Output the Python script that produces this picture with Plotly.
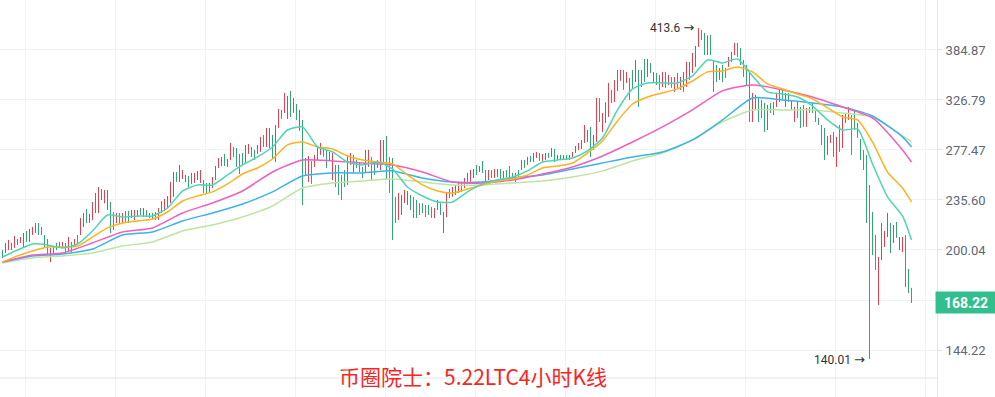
import numpy as np
import plotly.graph_objects as go

# ---------------- data ----------------
highs = [
    200.0, 204.7, 206.7, 204.7, 209.4, 207.4, 208.7, 211.5, 212.9, 214.3,
    215.7, 218.5, 218.5, 215.7, 210.1, 207.4, 201.4, 202.0, 204.7, 205.4,
    205.4, 204.7, 208.7, 205.4, 207.4, 210.1, 222.1, 225.8, 228.8, 225.1,
    234.1, 241.1, 245.8, 244.2, 243.4, 243.4, 234.1, 226.5, 225.8, 225.8,
    225.8, 227.3, 227.3, 228.0, 228.0, 228.0, 229.5, 229.5, 228.0, 225.8,
    225.8, 226.5, 229.5, 234.8, 236.4, 238.7, 249.9, 258.2, 258.2, 264.2,
    259.9, 255.7, 254.8, 257.4, 257.4, 259.1, 259.9, 251.5, 249.1, 249.1,
    254.0, 263.3, 270.3, 271.2, 273.9, 269.4, 283.9, 280.2, 279.3, 273.9,
    274.8, 282.1, 283.0, 280.2, 277.5, 282.1, 289.6, 291.4, 298.2, 298.2,
    291.4, 301.1, 317.3, 316.3, 334.4, 331.1, 336.6, 328.9, 322.5, 316.3,
    306.1, 270.3, 272.1, 267.7, 273.0, 279.3, 283.9, 280.2, 277.5, 275.7,
    274.8, 264.2, 264.2, 255.7, 259.9, 273.0, 274.8, 273.0, 268.5, 266.8,
    262.5, 277.5, 277.5, 271.2, 265.9, 268.5, 286.7, 286.7, 290.5, 271.2,
    270.3, 238.0, 241.1, 239.5, 243.4, 242.6, 239.5, 238.0, 235.6, 233.1,
    233.1, 231.8, 231.8, 230.3, 229.5, 235.6, 233.1, 226.5, 241.1, 244.2,
    245.8, 247.5, 249.9, 249.9, 253.2, 257.4, 259.9, 260.7, 264.2, 263.3,
    267.7, 259.9, 259.9, 259.9, 260.7, 260.7, 260.7, 259.1, 259.9, 263.3,
    257.4, 257.4, 259.9, 268.5, 268.5, 271.2, 272.1, 274.8, 275.7, 274.8,
    273.9, 274.8, 274.8, 279.3, 278.4, 273.0, 273.0, 273.0, 273.0, 273.0,
    275.7, 281.1, 283.9, 286.7, 301.1, 296.2, 299.2, 291.4, 328.9, 328.9,
    313.2, 324.3, 345.5, 337.7, 348.9, 360.5, 360.5, 360.5, 358.2, 351.2,
    360.5, 372.5, 360.5, 360.5, 373.7, 373.7, 368.8, 358.2, 357.0, 354.7,
    358.2, 358.2, 354.7, 352.3, 352.3, 357.0, 352.3, 358.2, 370.1, 370.1,
    381.1, 390.0, 413.6, 410.9, 406.9, 403.6, 404.2, 372.5, 366.4, 362.9,
    366.4, 362.9, 376.2, 382.4, 393.8, 393.8, 387.4, 372.5, 366.4, 358.2,
    334.4, 332.2, 328.9, 326.8, 323.6, 321.5, 323.6, 324.6, 334.4, 338.8,
    337.7, 334.4, 334.4, 326.8, 319.4, 324.6, 319.4, 321.5, 318.3, 319.4,
    323.6, 316.3, 308.1, 301.1, 298.2, 290.5, 291.4, 294.3, 289.6, 301.1,
    311.1, 313.2, 319.4, 311.1, 316.3, 303.1, 287.6, 277.5, 273.0, 247.5,
    226.5, 210.1, 195.5, 218.5, 212.9, 225.8, 218.5, 217.1, 219.2, 208.7,
    208.7, 210.1, 188.0, 176.7,
]
lows = [
    194.8, 198.1, 200.0, 200.0, 201.4, 203.4, 204.7, 202.0, 205.4, 205.4,
    210.1, 211.5, 210.1, 210.1, 201.4, 196.8, 192.3, 198.1, 200.0, 201.4,
    202.0, 198.7, 198.7, 198.7, 202.0, 204.7, 210.1, 215.7, 218.5, 218.5,
    220.7, 225.8, 225.8, 235.6, 233.1, 228.0, 211.5, 213.6, 218.5, 218.5,
    218.5, 219.2, 218.5, 222.1, 220.7, 222.8, 224.3, 222.8, 223.6, 222.1,
    220.7, 220.7, 220.7, 225.8, 227.3, 229.5, 233.1, 238.0, 249.9, 249.9,
    252.4, 249.9, 245.8, 248.3, 249.1, 251.5, 249.1, 241.1, 241.1, 241.9,
    245.0, 251.5, 261.6, 263.3, 263.3, 262.5, 268.5, 271.2, 262.5, 256.5,
    264.2, 265.9, 273.9, 271.2, 268.5, 273.9, 275.7, 280.2, 280.2, 279.3,
    269.4, 266.8, 298.2, 307.1, 313.2, 307.1, 309.1, 313.2, 306.1, 295.3,
    231.8, 255.7, 249.9, 248.3, 262.5, 268.5, 273.0, 271.2, 261.6, 268.5,
    251.5, 245.8, 239.5, 235.6, 245.8, 247.5, 264.2, 257.4, 261.6, 258.2,
    253.2, 258.2, 262.5, 251.5, 255.7, 261.6, 259.9, 266.8, 251.5, 241.1,
    206.7, 218.5, 220.7, 224.3, 233.1, 231.8, 228.0, 222.1, 222.1, 224.3,
    225.8, 222.8, 224.3, 222.1, 222.1, 228.0, 224.3, 211.5, 222.8, 237.1,
    238.0, 239.5, 241.1, 241.9, 245.0, 249.1, 249.9, 253.2, 255.7, 258.2,
    257.4, 249.1, 251.5, 253.2, 253.2, 254.0, 252.4, 251.5, 254.0, 253.2,
    251.5, 249.9, 254.0, 259.9, 261.6, 264.2, 266.8, 266.8, 270.3, 267.7,
    267.7, 268.5, 270.3, 271.2, 266.8, 268.5, 268.5, 268.5, 268.5, 268.5,
    271.2, 274.8, 277.5, 278.4, 283.9, 284.8, 271.2, 277.5, 284.8, 304.1,
    294.3, 303.1, 309.1, 323.6, 324.6, 336.6, 347.8, 337.7, 345.5, 326.8,
    339.9, 346.6, 319.4, 340.9, 346.6, 352.3, 357.0, 346.6, 343.2, 337.7,
    340.9, 339.9, 343.2, 339.9, 335.5, 339.9, 337.7, 335.5, 341.0, 348.9,
    357.0, 364.1, 388.7, 397.7, 378.6, 378.6, 378.6, 335.5, 346.6, 348.9,
    346.6, 351.2, 364.1, 370.1, 378.6, 376.2, 366.4, 352.3, 343.2, 304.1,
    304.1, 316.3, 304.1, 308.1, 294.3, 296.2, 313.2, 311.1, 319.4, 324.6,
    326.8, 319.4, 324.6, 316.3, 304.1, 308.1, 298.2, 299.2, 299.2, 313.2,
    313.2, 304.1, 301.1, 282.1, 268.5, 273.0, 283.9, 271.2, 262.5, 275.7,
    279.3, 303.1, 306.1, 273.0, 296.2, 288.6, 268.5, 259.9, 218.5, 140.01,
    196.8, 187.4, 167.1, 193.6, 202.0, 208.7, 198.1, 204.7, 208.1, 200.0,
    198.7, 177.2, 173.8, 168.22,
]
# r = rising candle (red), g = falling candle (green)
directions = (
    "grrrrrrrgr" "rrggggrrgr" "rgrgrgrrgr" "rrrrrrggrg" "rggrrrgrgg"
    "ggrrrrrrgr" "rrgrrrrggr" "rrrrgrrggg" "grrggrrgrr" "grrgrrgrgr"
    "ggrgrrrggr" "rggggrrrgg" "grrggrrrgg" "ggrrrrgggg" "ggggrrgrrr"
    "rrrgrrrrgr" "ggrgrrgrgg" "grgrgrgrrg" "rrgrgrgrgr" "rrrrrrgrrg"
    "rrrgrrrgrg" "grgggrgrgg" "rgrgrgrrrr" "rrrggrgggr" "ggrrrggggg"
    "rrgggrggrr" "grgrrgggrr" "gggggrrgrg" "rrrggggggg" "ggrrrrgrgr"
    "rggg"
)

# moving averages, sampled every 5 / 10 candles (plus the last candle)
ma_fast_idx = list(range(0, 301, 5)) + [303]
ma_slow_idx = list(range(0, 301, 10)) + [303]

ma_teal = [
    195.5, 200.0, 204.0, 203.4, 201.4, 204.0, 212.9, 224.3, 222.8, 223.6,
    223.6, 229.5, 242.6, 247.5, 247.5, 255.7, 264.2, 271.2, 280.2, 296.2,
    299.2, 280.2, 275.7, 266.8, 264.2, 266.8, 260.7, 245.8, 238.7, 234.1,
    234.1, 241.9, 248.3, 251.5, 254.0, 259.1, 266.8, 268.5, 270.3, 276.6,
    288.6, 316.3, 338.8, 345.5, 345.5, 345.5, 353.5, 372.5, 368.8, 373.7,
    353.5, 335.5, 333.3, 330.0, 320.4, 306.1, 296.2, 297.2, 265.1, 238.0,
    223.6, 206.7,
]
ma_yellow = [
    192.3, 196.2, 199.4, 202.0, 202.0, 202.7, 208.7, 215.0, 218.5, 220.0,
    221.4, 226.5, 234.8, 238.7, 241.9, 248.3, 256.5, 261.6, 269.4, 282.1,
    284.8, 280.2, 278.4, 272.1, 268.5, 266.8, 265.1, 255.7, 247.5, 242.6,
    241.1, 244.2, 247.5, 250.7, 252.4, 255.7, 261.6, 263.3, 265.9, 274.8,
    285.8, 305.1, 322.5, 330.0, 334.4, 338.8, 347.8, 358.2, 359.3, 364.1,
    358.2, 344.4, 338.8, 333.3, 327.9, 318.4, 309.1, 306.1, 284.8, 258.2,
    245.0, 234.1,
]
ma_pink = [
    192.3, 196.8, 198.1, 204.7, 212.2, 215.0, 225.8, 233.3, 242.6, 258.2,
    268.5, 267.7, 265.9, 264.2, 258.2, 249.9, 249.1, 251.5, 256.5, 262.5,
    272.1, 284.8, 299.2, 316.3, 336.6, 343.2, 337.7, 330.0, 319.4, 308.1,
    277.5, 266.8,
]
ma_blue = [
    192.3, 196.2, 197.4, 200.7, 210.1, 212.2, 220.0, 225.8, 232.5, 241.9,
    254.8, 257.4, 257.4, 259.1, 253.2, 249.9, 249.9, 253.2, 255.7, 260.7,
    265.9, 271.2, 275.7, 286.7, 306.1, 328.9, 326.8, 323.6, 319.4, 310.1,
    289.6, 280.2,
]
ma_lgreen = [
    191.7, 194.9, 196.2, 198.1, 202.7, 205.4, 212.9, 217.1, 222.8, 231.0,
    245.0, 249.1, 250.7, 252.4, 249.9, 247.5, 247.5, 249.1, 250.7, 254.0,
    259.1, 267.7, 274.8, 286.7, 304.1, 316.3, 316.3, 316.3, 313.2, 309.1,
    290.5, 284.8,
]

# the 169.85 grid line's label is hidden behind the current-price box
tick_vals = [144.22, 169.85, 200.04, 235.60, 277.47, 326.79, 384.87]
tick_text = ["144.22", "", "200.04", "235.60", "277.47", "326.79", "384.87"]
day_lines = [7.5 + 30 * k for k in range(11)]

last_price = 168.22
high_mark = (232, 413.6)
low_mark = (289, 140.01)
title_text = "币圈院士：5.22LTC4小时K线"

assert len(highs) == len(lows) == len(directions) == 304
assert len(ma_teal) == len(ma_yellow) == len(ma_fast_idx)
assert len(ma_pink) == len(ma_blue) == len(ma_lgreen) == len(ma_slow_idx)

# ---------------- colours ----------------
UP = "#e5414f"
DOWN = "#33a673"

fig = go.Figure()


def candle_segments(flag):
    xs, ys = [], []
    for i, (h, l, d) in enumerate(zip(highs, lows, directions)):
        if d == flag:
            xs += [i, i, None]
            ys += [l, h, None]
    return xs, ys


for flag, col in (("r", UP), ("g", DOWN)):
    xs, ys = candle_segments(flag)
    fig.add_trace(go.Scatter(x=xs, y=ys, mode="lines",
                             line=dict(color=col, width=1),
                             hoverinfo="skip", connectgaps=False))

for idx, vals, col in (
    (ma_slow_idx, ma_lgreen, "#bde5a0"),
    (ma_slow_idx, ma_blue, "#3bb3ea"),
    (ma_slow_idx, ma_pink, "#ef5fc0"),
    (ma_fast_idx, ma_yellow, "#ffb21e"),
    (ma_fast_idx, ma_teal, "#4dd5b5"),
):
    fig.add_trace(go.Scatter(x=idx, y=vals, mode="lines",
                             line=dict(color=col, width=1.5, shape="spline", smoothing=0.6),
                             hoverinfo="skip"))

GRID = "#f1f2f4"
fig.update_layout(
    width=995, height=397, autosize=False,
    margin=dict(l=0, r=58, t=0, b=0),
    paper_bgcolor="white", plot_bgcolor="white",
    showlegend=False,
    font=dict(family="Roboto, 'Noto Sans', sans-serif"),
    xaxis=dict(range=[-0.8333, 311.5], tickvals=day_lines, showticklabels=False,
               showgrid=True, gridcolor=GRID, gridwidth=1, zeroline=False,
               showline=False, ticks="", fixedrange=True),
    yaxis=dict(type="log", side="right", range=[2.092253, 2.656271],
               tickvals=tick_vals, ticktext=tick_text,
               showgrid=True, gridcolor=GRID, gridwidth=1, zeroline=False,
               ticks="outside", ticklen=5, tickcolor="#e3e5e9",
               tickfont=dict(family="Roboto", size=13, color="#5f6876"),
               showline=True, linecolor="#e3e5e9", linewidth=1, fixedrange=True),
)

# time-axis border line
fig.add_shape(type="line", xref="paper", yref="paper", x0=0, x1=1,
              y0=19 / 397, y1=19 / 397, line=dict(color="#e3e5e9", width=1))

# current price box
fig.add_annotation(xref="paper", x=1, xanchor="left", xshift=-2,
                   yref="y", y=np.log10(last_price), yanchor="middle",
                   text=f"<b>{last_price:.2f}</b>", showarrow=False,
                   font=dict(family="Roboto", size=14, color="white"),
                   bgcolor="#33bf8d", width=56, height=17, borderpad=2, align="center")

ARROW = '<span style="font-family:DejaVu Sans;font-size:13px">→</span>'
# high / low markers
fig.add_annotation(x=high_mark[0], y=np.log10(high_mark[1]), xanchor="right", xshift=-3,
                   yanchor="middle", text=f"{high_mark[1]} {ARROW}", showarrow=False,
                   font=dict(family="Roboto", size=12, color="#333333"))
fig.add_annotation(x=low_mark[0], y=np.log10(low_mark[1]), xanchor="right", xshift=-3,
                   yanchor="middle", text=f"{low_mark[1]:.2f} {ARROW}", showarrow=False,
                   font=dict(family="Roboto", size=12, color="#333333"))

# caption
fig.add_annotation(xref="paper", yref="paper", x=473 / 937, y=21 / 397,
                   xanchor="center", yanchor="middle", text=title_text, showarrow=False,
                   font=dict(family="Noto Sans CJK SC", size=21, color="#f5261f"))

fig.write_html("out.html",
               config={"displayModeBar": False},
               post_script="document.body.style.margin='0';document.body.style.overflow='hidden';")
